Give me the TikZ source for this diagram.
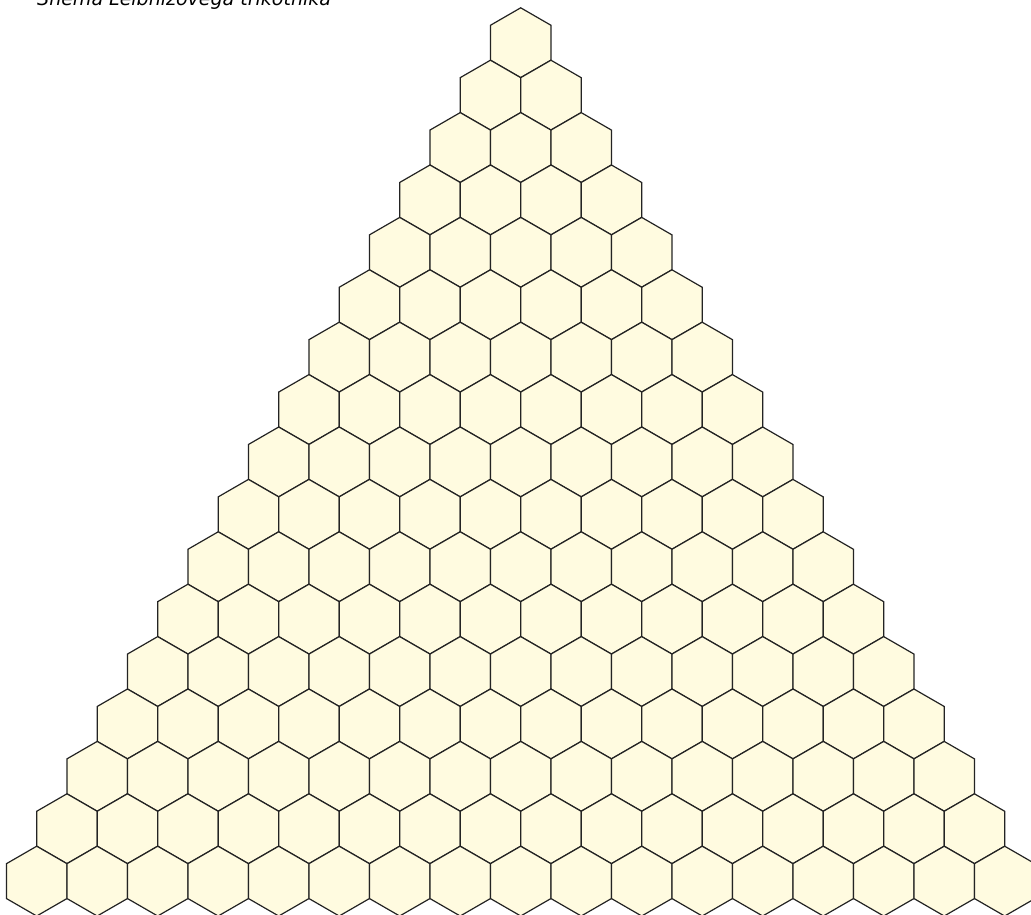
\documentclass[tikz,border=0pt]{standalone}
\usepackage{fontspec}
\setmainfont{DejaVu Sans}
\usetikzlibrary{positioning}

\definecolor{cellfill}{RGB}{255,251,224}
\definecolor{cellline}{RGB}{35,35,35}

\begin{document}
\begin{tikzpicture}[x=1pt, y=-1pt,
    hexcell/.style={draw=cellline, fill=cellfill, line width=1.2pt, line join=miter},
    caption/.style={anchor=base west, inner sep=0pt, font=\fontsize{19}{23}\selectfont\itshape}]
  \useasboundingbox (0,0) rectangle (1031,914);
  % rows of the triangle, top row first
  \foreach \r in {0,...,16} {
    \foreach \k in {0,...,\r} {
      \draw[hexcell] ({520.7+(\k-\r/2)*60.5}, {42.7+\r*52.4})
        +(90:34.9) -- +(150:34.9) -- +(210:34.9) -- +(270:34.9) -- +(330:34.9) -- +(30:34.9) -- cycle;
    }
  }
  \node[caption] (title) at (37,5) {Shema Leibnizovega trikotnika};
\end{tikzpicture}
\end{document}
